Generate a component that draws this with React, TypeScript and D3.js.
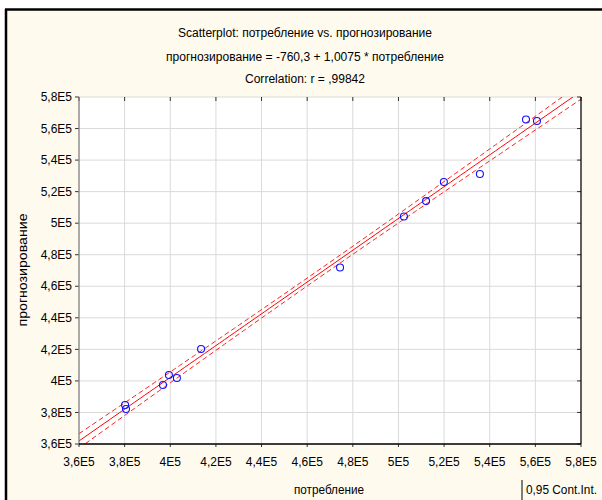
import React from "react";
import * as d3 from "d3";

// Observations (потребление, прогнозирование), in units of 1E5
const consumption = [3.802, 3.806, 3.968, 3.994, 4.029, 4.135, 4.744, 5.024, 5.121, 5.199, 5.357, 5.559, 5.607];
const forecast = [3.847, 3.822, 3.974, 4.037, 4.018, 4.202, 4.719, 5.042, 5.140, 5.261, 5.312, 5.657, 5.648];

// Fitted line: прогнозирование = -760,3 + 1,0075 * потребление
const intercept = -760.3;
const slope = 1.0075;
const tCrit = 2.201; // t(0.975, df = 11)

const tickValues = [3.6, 3.8, 4.0, 4.2, 4.4, 4.6, 4.8, 5.0, 5.2, 5.4, 5.6, 5.8];

const titleLines = [
  "Scatterplot: потребление vs. прогнозирование",
  "прогнозирование = -760,3 + 1,0075 * потребление",
  "Correlation: r = ,99842",
];

const W = 602;
const H = 500;
const plot = { left: 79, right: 581, top: 97, bottom: 444 };
const FONT = "'Liberation Sans', Arial, sans-serif";

const fmt = (v: number) => {
  const s = (Math.round(v * 10) / 10).toString().replace(".", ",");
  return `${s}E5`;
};

export default function App() {
  const x = d3.scaleLinear().domain([3.6, 5.8]).range([plot.left, plot.right]);
  const y = d3.scaleLinear().domain([3.6, 5.8]).range([plot.bottom, plot.top]);

  const predict = (xv: number) => (intercept + slope * xv * 1e5) / 1e5;

  // Confidence band for the mean response
  const n = consumption.length;
  const xMean = d3.mean(consumption)!;
  const sxx = d3.sum(consumption, (v) => (v - xMean) ** 2);
  const sse = d3.sum(consumption, (v, i) => (forecast[i] - predict(v)) ** 2);
  const s = Math.sqrt(sse / (n - 2));
  const half = (xv: number) => tCrit * s * Math.sqrt(1 / n + (xv - xMean) ** 2 / sxx);

  const xs = d3.range(0, 101).map((i) => 3.6 + (2.2 * i) / 100);
  const line = d3
    .line<number[]>()
    .x((d) => x(d[0]))
    .y((d) => y(d[1]));
  const fitPath = line(xs.map((v) => [v, predict(v)]))!;
  const upperPath = line(xs.map((v) => [v, predict(v) + half(v)]))!;
  const lowerPath = line(xs.map((v) => [v, predict(v) - half(v)]))!;

  return (
    <svg
      width={W}
      height={H}
      style={{ position: "absolute", left: 0, top: 0, display: "block" }}
      fontFamily={FONT}
    >
      <defs>
        <clipPath id="plotClip">
          <rect x={plot.left} y={plot.top} width={plot.right - plot.left} height={plot.bottom - plot.top} />
        </clipPath>
      </defs>
      <rect x={0} y={0} width={W} height={H} fill="#ffffff" />
      <rect x={6} y={9} width={W - 6} height={H - 9} fill="#fffaee" />
      <line x1={5} x2={W} y1={9.5} y2={9.5} stroke="#000" strokeWidth={2.5} />
      <line x1={6} x2={6} y1={9} y2={H} stroke="#000" strokeWidth={2.5} />

      {/* titles */}
      {titleLines.map((t, i) => (
        <text
          key={i}
          x={305}
          y={[37, 61, 83][i]}
          textAnchor="middle"
          fontSize={12}
          fill="#000"
          textLength={[254, 278, 120][i]}
          lengthAdjust="spacingAndGlyphs"
        >
          {t}
        </text>
      ))}

      {/* plot area */}
      <rect x={plot.left} y={plot.top} width={plot.right - plot.left} height={plot.bottom - plot.top} fill="#fff" />

      {/* grid */}
      {tickValues.map((v) => (
        <g key={`g${v}`}>
          <line x1={x(v)} x2={x(v)} y1={plot.top} y2={plot.bottom} stroke="#dadada" strokeWidth={1} />
          <line x1={plot.left} x2={plot.right} y1={y(v)} y2={y(v)} stroke="#dadada" strokeWidth={1} />
        </g>
      ))}

      {/* ticks */}
      {tickValues.map((v) => (
        <g key={`t${v}`} stroke="#333" strokeWidth={1}>
          <line x1={plot.left - 4} x2={plot.left} y1={y(v)} y2={y(v)} />
          <line x1={plot.right - 4} x2={plot.right} y1={y(v)} y2={y(v)} />
          <line x1={x(v)} x2={x(v)} y1={plot.bottom} y2={plot.bottom + 3} />
          <line x1={x(v)} x2={x(v)} y1={plot.top} y2={plot.top + 4} />
        </g>
      ))}

      {/* fit and confidence band */}
      <g clipPath="url(#plotClip)" fill="none">
        <path d={upperPath} stroke="#ff2020" strokeWidth={1} strokeDasharray="5,3" />
        <path d={lowerPath} stroke="#ff2020" strokeWidth={1} strokeDasharray="5,3" />
        <path d={fitPath} stroke="#ff0000" strokeWidth={1} />
      </g>

      {/* points */}
      {consumption.map((v, i) => (
        <circle key={i} cx={x(v)} cy={y(forecast[i])} r={3.5} fill="none" stroke="#1010ff" strokeWidth={1.1} />
      ))}

      {/* axes */}
      <line x1={plot.left} x2={plot.left} y1={plot.top} y2={plot.bottom} stroke="#808080" strokeWidth={1.2} />
      <line x1={plot.left} x2={plot.right} y1={plot.bottom} y2={plot.bottom} stroke="#000" strokeWidth={1.5} />
      <line x1={plot.right} x2={plot.right} y1={plot.top} y2={plot.bottom} stroke="#000" strokeWidth={1.2} />

      {/* tick labels */}
      {tickValues.map((v) => (
        <g key={`l${v}`} fontSize={12} fill="#000">
          <text x={plot.left - 7} y={y(v)} dy="0.35em" textAnchor="end">
            {fmt(v)}
          </text>
          <text x={x(v)} y={466} textAnchor="middle">
            {fmt(v)}
          </text>
        </g>
      ))}

      {/* axis titles */}
      <text x={329} y={494} textAnchor="middle" fontSize={12} textLength={70} lengthAdjust="spacingAndGlyphs">
        потребление
      </text>
      <text
        transform="translate(27,270) rotate(-90)"
        textAnchor="middle"
        fontSize={12}
        textLength={113}
        lengthAdjust="spacingAndGlyphs"
      >
        прогнозирование
      </text>

      {/* legend */}
      <line x1={522} x2={522} y1={480} y2={H} stroke="#000" strokeWidth={1} />
      <text x={526} y={494} fontSize={12} textLength={71} lengthAdjust="spacingAndGlyphs">
        0,95 Cont.Int.
      </text>
    </svg>
  );
}
